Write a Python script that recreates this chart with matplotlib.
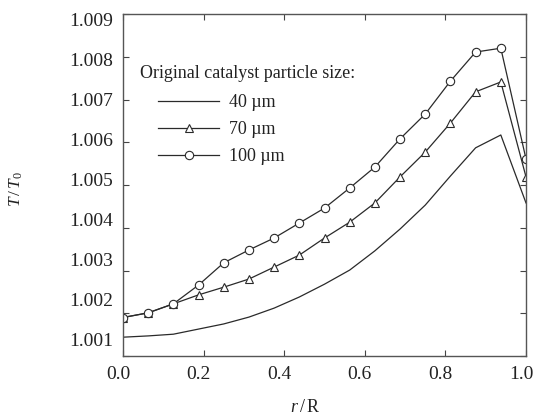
import numpy as np
import matplotlib
matplotlib.use("Agg")
import matplotlib.pyplot as plt
from matplotlib.transforms import ScaledTranslation

plt.rcParams['font.family'] = 'Liberation Serif'
plt.rcParams['mathtext.fontset'] = 'custom'
plt.rcParams['mathtext.rm'] = 'Liberation Serif'
plt.rcParams['mathtext.it'] = 'Liberation Serif:italic'

# r/R positions (17 nodes)
r = np.arange(17) / 16.0

T_40 = [1.00144, 1.00147, 1.00151, 1.00163, 1.00175, 1.00191, 1.00212, 1.00238, 1.00268,
        1.00301, 1.00346, 1.00397, 1.00453, 1.00521, 1.00587, 1.00617, 1.00458]
T_70 = [1.00190, 1.00201, 1.00222, 1.00243, 1.00261, 1.00280, 1.00308, 1.00336, 1.00376,
        1.00413, 1.00458, 1.00519, 1.00577, 1.00645, 1.00718, 1.00741, 1.00519]
T_100 = [1.00190, 1.00201, 1.00222, 1.00266, 1.00318, 1.00348, 1.00376, 1.00411, 1.00446,
         1.00493, 1.00542, 1.00608, 1.00666, 1.00743, 1.00811, 1.00820, 1.00561]

labels = ['40 \u00b5m', '70 \u00b5m', '100 \u00b5m']
xticks = [0.0, 0.2, 0.4, 0.6, 0.8, 1.0]
yticks = [1.001, 1.002, 1.003, 1.004, 1.005, 1.006, 1.007, 1.008, 1.009]

fig = plt.figure(figsize=(5.33, 4.17), dpi=100)
ax = fig.add_axes([123/533, 1 - 356/417, 403/533, 342/417])

lc = '#2a2a2a'
ax.plot(r, T_40, color=lc, lw=0.9, label=labels[0])
ax.plot(r, T_70, color=lc, lw=0.9, marker='^', ms=6, mfc='white', mec=lc, mew=0.8, label=labels[1])
ax.plot(r, T_100, color=lc, lw=0.9, marker='o', ms=6, mfc='white', mec=lc, mew=0.8, label=labels[2])

ax.set_xlim(0, 1)
ax.set_ylim(1.001, 1.009)
ax.set_xticks(xticks)
ax.set_xticklabels(['%.1f' % t for t in xticks])
ax.set_yticks(yticks)
ax.set_yticklabels(['%.3f' % t for t in yticks])
ax.tick_params(direction='in', length=4, width=0.8, colors='#444', labelcolor='#222',
               labelsize=14, top=True, right=True, pad=7)
for s in ax.spines.values():
    s.set_color('#555')
    s.set_linewidth(1.0)

# the scanned figure has its tick labels nudged a little off the ticks
for lab in ax.get_xticklabels():
    lab.set_transform(lab.get_transform() + ScaledTranslation(-5/100, 0, fig.dpi_scale_trans))
for i, lab in enumerate(ax.get_yticklabels()):
    dy = (16 - 2.75 * i) / 100   # i=0 is 1.001
    lab.set_transform(lab.get_transform() + ScaledTranslation(0, dy, fig.dpi_scale_trans))

fig.text(305/533, 1 - 408/417, r'$r\,/\,\mathrm{R}$', fontsize=13, color='#222',
         ha='center', va='center')
fig.text(16/533, 1 - 189/417, r'$T\,/\,T_0$', fontsize=12.5, color='#222',
         ha='center', va='center', rotation=90)

fig.text(140/533, 1 - 73/417, 'Original catalyst particle size:', fontsize=13,
         color='#222', va='center', ha='left')
ax.legend(loc='upper left', bbox_to_anchor=(158/533, 1 - 94/417), bbox_transform=fig.transFigure,
          frameon=False, fontsize=13, handlelength=3.4, handletextpad=0.55,
          borderpad=0, borderaxespad=0, labelspacing=0.55, labelcolor='#222')

fig.savefig('out.png', dpi=100)
